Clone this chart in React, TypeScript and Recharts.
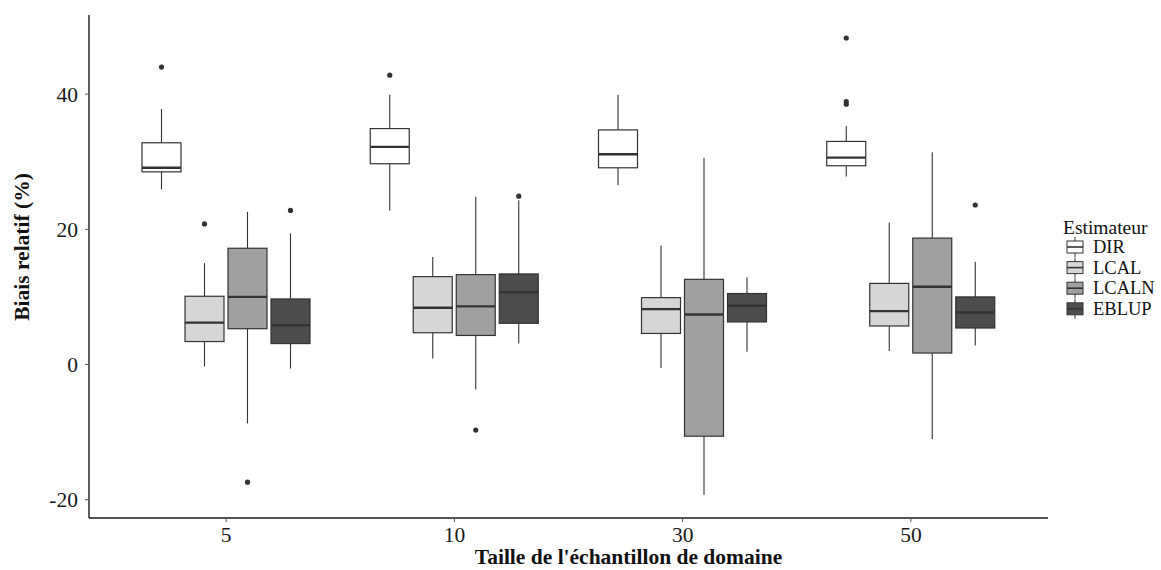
import React from 'react';
import { ComposedChart, Bar, XAxis, YAxis, Label } from 'recharts';

const FONT = "'Liberation Serif', 'Times New Roman', serif";

const categories = ['5', '10', '30', '50'];
const seriesNames = ['DIR', 'LCAL', 'LCALN', 'EBLUP'];
const seriesFills = ['#ffffff', '#d6d6d6', '#a0a0a0', '#4d4d4d'];
const yTicks = [-20, 0, 20, 40];

// [lower whisker, Q1, median, Q3, upper whisker] for each sample size
const dirBoxes = [
  [25.9, 28.5, 29.1, 32.8, 37.8],
  [22.8, 29.7, 32.2, 34.9, 39.9],
  [26.5, 29.1, 31.1, 34.7, 39.9],
  [27.8, 29.4, 30.6, 33.0, 35.3],
];
const lcalBoxes = [
  [-0.3, 3.4, 6.2, 10.1, 15.0],
  [0.9, 4.7, 8.4, 13.0, 15.9],
  [-0.5, 4.6, 8.2, 9.9, 17.6],
  [2.0, 5.7, 7.9, 12.0, 21.0],
];
const lcalnBoxes = [
  [-8.7, 5.3, 10.0, 17.2, 22.6],
  [-3.7, 4.3, 8.6, 13.3, 24.8],
  [-19.3, -10.6, 7.4, 12.6, 30.6],
  [-11.0, 1.7, 11.5, 18.7, 31.4],
];
const eblupBoxes = [
  [-0.6, 3.1, 5.8, 9.7, 19.4],
  [3.1, 6.1, 10.7, 13.4, 24.3],
  [1.9, 6.3, 8.7, 10.5, 12.9],
  [2.8, 5.4, 7.7, 10.0, 15.2],
];

const dirOutliers = [[44.0], [42.8], [], [48.3, 38.9, 38.5]];
const lcalOutliers = [[20.8], [], [], []];
const lcalnOutliers = [[-17.4], [-9.7], [], []];
const eblupOutliers = [[22.8], [24.9], [], [23.6]];

const boxesBySeries = [dirBoxes, lcalBoxes, lcalnBoxes, eblupBoxes];
const outliersBySeries = [dirOutliers, lcalOutliers, lcalnOutliers, eblupOutliers];

const data = categories.map((cat, i) => {
  const row: any = { cat };
  seriesNames.forEach((s, k) => {
    const b = boxesBySeries[k][i];
    row[s] = [b[0], b[4]];
    row[s + '_box'] = b;
    row[s + '_out'] = outliersBySeries[k][i];
  });
  return row;
});

const STROKE = '#333333';

const makeShape = (name: string, fill: string) => (props: any) => {
  const { x, y, width, height, payload } = props;
  const b = payload[name + '_box'];
  const outs: number[] = payload[name + '_out'] || [];
  const lo = b[0];
  const hi = b[4];
  const ppu = height / (hi - lo);
  const py = (v: number) => y + (hi - v) * ppu;
  const cx = x + width / 2;
  return (
    <g>
      <line x1={cx} x2={cx} y1={py(hi)} y2={py(b[3])} stroke={STROKE} strokeWidth={1.1} />
      <line x1={cx} x2={cx} y1={py(b[1])} y2={py(lo)} stroke={STROKE} strokeWidth={1.1} />
      <rect
        x={x}
        y={py(b[3])}
        width={width}
        height={py(b[1]) - py(b[3])}
        fill={fill}
        stroke={STROKE}
        strokeWidth={1.2}
      />
      <line x1={x} x2={x + width} y1={py(b[2])} y2={py(b[2])} stroke={STROKE} strokeWidth={2.4} />
      {outs.map((v, j) => (
        <circle key={j} cx={cx} cy={py(v)} r={2.6} fill={STROKE} />
      ))}
    </g>
  );
};

const XTitle = (props: any) => {
  const { viewBox } = props;
  return (
    <text
      x={viewBox.x + viewBox.width / 2 + 60}
      y={viewBox.y + viewBox.height - 6}
      textAnchor="middle"
      fontFamily={FONT}
      fontWeight="bold"
      fontSize={21.5}
      fill="#111"
    >
      Taille de l'échantillon de domaine
    </text>
  );
};

const YTitle = (props: any) => {
  const { viewBox } = props;
  const cx = viewBox.x + 22;
  const cy = 247;
  return (
    <text
      x={cx}
      y={cy}
      transform={`rotate(-90, ${cx}, ${cy})`}
      textAnchor="middle"
      dominantBaseline="central"
      fontFamily={FONT}
      fontWeight="bold"
      fontSize={21.5}
      fill="#111"
    >
      Biais relatif (%)
    </text>
  );
};

const LegendBox = () => (
  <svg
    width={106}
    height={120}
    style={{ position: 'absolute', left: 1058, top: 214 }}
  >
    <text x={5} y={20} fontFamily={FONT} fontSize={19.5} fill="#111">
      Estimateur
    </text>
    {seriesNames.map((s, i) => {
      const yc = 33 + 20.6 * i;
      return (
        <g key={s}>
          <line x1={17} x2={17} y1={yc - 10} y2={yc + 10} stroke={STROKE} strokeWidth={1} />
          <rect x={9} y={yc - 6} width={16} height={12} fill={seriesFills[i]} stroke={STROKE} strokeWidth={1} />
          <line x1={9} x2={25} y1={yc} y2={yc} stroke={STROKE} strokeWidth={1.6} />
          <text x={35} y={yc + 6} fontFamily={FONT} fontSize={18.5} fill="#111">
            {s}
          </text>
        </g>
      );
    })}
  </svg>
);

export default function App() {
  return (
    <div style={{ position: 'absolute', left: 0, top: 0, width: 1161, height: 570, background: '#fff' }}>
      <ComposedChart
        width={1161}
        height={570}
        data={data}
        margin={{ top: 15, right: 113, bottom: 0, left: 0 }}
        barGap={4}
      >
        <XAxis
          dataKey="cat"
          type="category"
          padding={{ left: 23, right: 23 }}
          height={52}
          tickSize={4}
          tickMargin={5}
          axisLine={{ stroke: '#1a1a1a', strokeWidth: 1.4 }}
          tickLine={{ stroke: '#555' }}
          tick={{ fontSize: 21.5, fill: '#1a1a1a', fontFamily: FONT }}
        >
          <Label content={<XTitle />} />
        </XAxis>
        <YAxis
          type="number"
          domain={[-22.7, 51.7]}
          ticks={yTicks}
          allowDataOverflow
          width={89}
          tickSize={4}
          tickMargin={7}
          axisLine={{ stroke: '#1a1a1a', strokeWidth: 1.4 }}
          tickLine={{ stroke: '#555' }}
          tick={{ fontSize: 21.5, fill: '#1a1a1a', fontFamily: FONT }}
        >
          <Label content={<YTitle />} />
        </YAxis>
        {seriesNames.map((s, k) => (
          <Bar
            key={s}
            dataKey={s}
            barSize={39}
            fill={seriesFills[k]}
            isAnimationActive={false}
            shape={makeShape(s, seriesFills[k])}
          />
        ))}
      </ComposedChart>
      <LegendBox />
    </div>
  );
}
